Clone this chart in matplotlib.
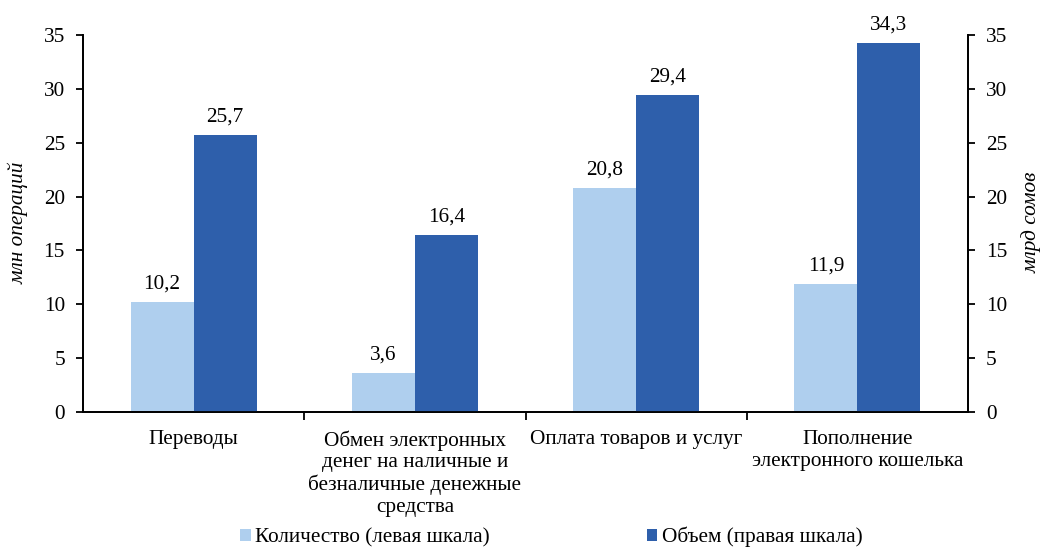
import matplotlib
matplotlib.use("Agg")
import matplotlib.pyplot as plt
import numpy as np

plt.rcParams['font.family'] = ['Liberation Serif', 'DejaVu Serif']

categories = ["Переводы",
              "Обмен электронных\nденег на наличные и\nбезналичные денежные\nсредства",
              "Оплата товаров и услуг",
              "Пополнение\nэлектронного кошелька"]
count_vals = [10.2, 3.6, 20.8, 11.9]
volume_vals = [25.7, 16.4, 29.4, 34.3]
series_names = ["Количество (левая шкала)", "Объем (правая шкала)"]
yticks = [0, 5, 10, 15, 20, 25, 30, 35]

c_light = "#AFCFEE"
c_dark = "#2E5FAB"
fs = 15.3

fig = plt.figure(figsize=(10.43, 5.47), dpi=100)
ax = fig.add_axes([83/1043, 1 - 412/547, (968-83)/1043, (412-35)/547])
ax2 = ax.twinx()

x = np.arange(len(categories))
w = 0.285
b1 = ax.bar(x - w/2, count_vals, w, color=c_light, label=series_names[0], zorder=2)
b2 = ax2.bar(x + w/2, volume_vals, w, color=c_dark, label=series_names[1], zorder=2)

for a in (ax, ax2):
    a.set_ylim(0, 35)
    a.set_yticks(yticks)
    a.set_xlim(-0.5, len(categories) - 0.5)
    a.spines['top'].set_visible(False)
    for s in a.spines.values():
        s.set_linewidth(1.3)

ax.tick_params(axis='y', labelsize=fs, direction='out', length=5, width=1.3, pad=8)
ax2.tick_params(axis='y', labelsize=fs, direction='out', length=5, width=1.3, pad=8)

ax.set_xticks(x)
ax.set_xticklabels(categories, fontsize=fs, linespacing=1.18)
ax.tick_params(axis='x', length=0, pad=13)
ax.set_xticks(np.arange(len(categories) - 1) + 0.5, minor=True)
ax.tick_params(axis='x', which='minor', length=6, width=1.3, direction='out')

for rect, v in zip(b1, count_vals):
    ax.annotate(f"{v:.1f}".replace('.', ','), (rect.get_x() + rect.get_width()/2, v),
                xytext=(0, 6), textcoords='offset points', ha='center', va='bottom', fontsize=fs)
for rect, v in zip(b2, volume_vals):
    ax2.annotate(f"{v:.1f}".replace('.', ','), (rect.get_x() + rect.get_width()/2, v),
                 xytext=(0, 6), textcoords='offset points', ha='center', va='bottom', fontsize=fs)

fig.text(18/1043, 1 - 223/547, "млн операций", rotation=90, style='italic',
         fontsize=fs, ha='center', va='center')
fig.text(1032/1043, 1 - 222/547, "млрд сомов", rotation=90, style='italic',
         fontsize=fs, ha='center', va='center')

fig.legend(handles=[b1, b2], labels=series_names, loc='center', ncol=2,
           bbox_to_anchor=(551/1043, 1 - 537/547), frameon=False, fontsize=fs,
           handlelength=0.5, handleheight=0.5, handletextpad=0.2, columnspacing=7.4,
           borderpad=0, borderaxespad=0)

fig.savefig("out.png", dpi=100)
